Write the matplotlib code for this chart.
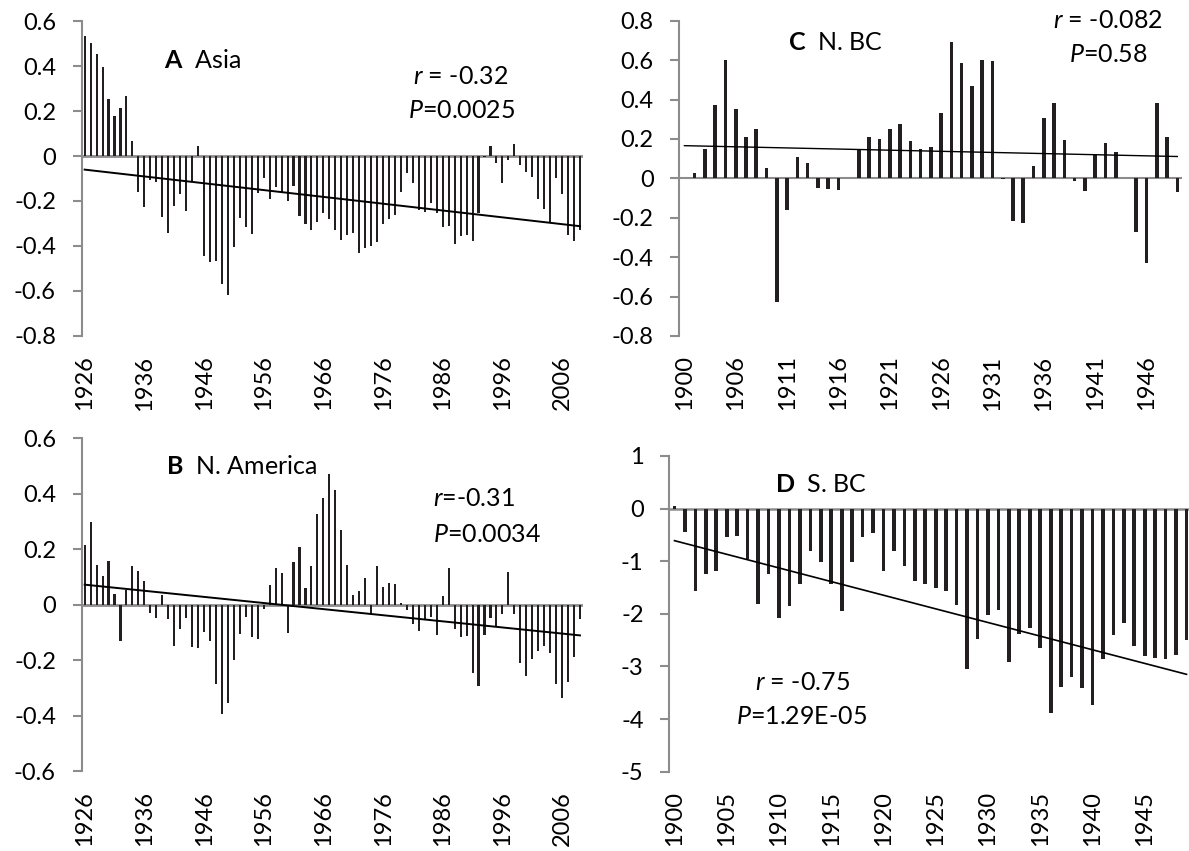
import numpy as np
import matplotlib
matplotlib.use("Agg")
import matplotlib.pyplot as plt

plt.rcParams['font.family'] = ['Lato', 'DejaVu Sans']
plt.rcParams['mathtext.fontset'] = 'custom'
plt.rcParams['mathtext.rm'] = 'Lato'
plt.rcParams['mathtext.it'] = 'Lato:italic'
plt.rcParams['mathtext.bf'] = 'Lato:bold'
plt.rcParams['axes.unicode_minus'] = False

# ---- data ----
years_ab = list(range(1926, 2010))
asia = [0.535, 0.504, 0.453, 0.394, 0.255, 0.176, 0.212, 0.265, 0.065,
        -0.159, -0.228, -0.107, -0.114, -0.27, -0.344, -0.221, -0.167, -0.243, -0.11,
        0.044, -0.444, -0.47, -0.467, -0.57, -0.618, -0.404, -0.276, -0.314, -0.347,
        -0.166, -0.10, -0.193, -0.136, -0.166, -0.2, -0.132, -0.267, -0.302, -0.329,
        -0.295, -0.255, -0.28, -0.329, -0.373, -0.351, -0.344, -0.433, -0.41, -0.399,
        -0.381, -0.302, -0.281, -0.262, -0.159, -0.074, -0.121, -0.24, -0.247, -0.21,
        -0.255, -0.317, -0.31, -0.393, -0.356, -0.351, -0.378, -0.252, -0.006, 0.044,
        -0.03, -0.119, -0.018, 0.053, -0.04, -0.07, -0.092, -0.19, -0.236, -0.296,
        -0.10, -0.17, -0.35, -0.38, -0.33]
namerica = [0.214, 0.297, 0.145, 0.103, 0.156, 0.037, -0.129, 0.052, 0.138, 0.12,
            0.087, -0.03, -0.048, 0.034, -0.053, -0.149, -0.088, -0.048, -0.153, -0.156,
            -0.099, -0.13, -0.285, -0.393, -0.355, -0.2, -0.105, -0.044, -0.117, -0.125,
            -0.014, 0.071, 0.131, 0.115, -0.101, 0.154, 0.207, 0.061, 0.141, 0.328,
            0.386, 0.47, 0.412, 0.27, 0.144, 0.034, 0.049, 0.097, -0.038, 0.138,
            0.065, 0.08, 0.076, 0.007, -0.018, -0.071, -0.096, -0.05, -0.044, -0.108,
            0.03, 0.132, -0.087, -0.117, -0.113, -0.246, -0.293, -0.108, -0.047, -0.075,
            -0.032, 0.117, -0.035, -0.21, -0.257, -0.197, -0.165, -0.147, -0.175, -0.285,
            -0.337, -0.28, -0.19, -0.05]

years_c = [1900] + list(range(1902, 1950))
nbc = [0.0, 0.025, 0.15, 0.37, 0.60, 0.35, 0.21, 0.25, 0.05, -0.63,
       -0.16, 0.11, 0.08, -0.05, -0.055, -0.06, 0.0, 0.15, 0.21, 0.20,
       0.25, 0.276, 0.19, 0.15, 0.16, 0.33, 0.69, 0.585, 0.47, 0.60,
       0.594, -0.003, -0.217, -0.229, 0.064, 0.308, 0.382, 0.195, -0.013, -0.064,
       0.12, 0.177, 0.135, 0.0, -0.274, -0.429, 0.384, 0.209, -0.067]

years_d = list(range(1900, 1950))
sbc = [0.057, -0.45, -1.56, -1.25, -1.19, -0.54, -0.53, -0.96, -1.81, -1.24,
       -2.08, -1.86, -1.43, -0.81, -1.02, -1.43, -1.94, -1.01, -0.545, -0.46,
       -1.18, -0.81, -1.10, -1.37, -1.43, -1.50, -1.57, -1.84, -3.05, -2.47,
       -2.02, -1.92, -2.92, -2.38, -2.26, -2.65, -3.88, -3.40, -3.20, -3.41,
       -3.74, -2.85, -2.41, -2.17, -2.62, -2.81, -2.83, -2.86, -2.79, -2.49]

GRAY = '#8c8c8c'
BAR = '#231f20'
W, H = 1189, 851


def px(x, y):
    return x / W, 1 - y / H


def fmt(v):
    v = round(v, 1)
    if abs(v) < 1e-9:
        return '0'
    return f'{v:g}'


def panel(rect, years, vals, ylim, ystep, label_every, zero_lw=2.0, trend_lw=1.4):
    ax = fig.add_axes(rect)
    x = np.arange(len(vals))
    ax.bar(x, vals, width=0.35, color=BAR, zorder=2)
    # least-squares trend line, as in the original spreadsheet chart
    slope, icpt = np.polyfit(x, vals, 1)
    ax.plot([x[0], x[-1]], [icpt + slope * x[0], icpt + slope * x[-1]],
            color='black', lw=trend_lw, zorder=3)
    ax.axhline(0, color=GRAY, lw=zero_lw, zorder=1)
    for s in ['top', 'right', 'bottom']:
        ax.spines[s].set_visible(False)
    ax.spines['left'].set_color(GRAY)
    ax.spines['left'].set_linewidth(1.5)
    ax.set_xlim(-0.5, len(vals) - 0.5)
    ax.set_ylim(*ylim)
    yt = np.arange(ylim[0], ylim[1] + ystep / 2, ystep)
    ax.set_yticks(yt)
    ax.set_yticklabels([fmt(v) for v in yt])
    pos = list(range(0, len(vals), label_every))
    ax.set_xticks(pos)
    ax.set_xticklabels([str(years[p]) for p in pos], rotation=90)
    ax.tick_params(axis='y', direction='out', length=6.5, width=1.5, color=GRAY,
                   pad=12, labelsize=17)
    ax.tick_params(axis='x', length=0, pad=14, labelsize=17)
    return ax


fig = plt.figure(figsize=(W / 100, H / 100), dpi=100)

panel([0.0687, 0.6052, 0.4216, 0.3701], years_ab, asia, (-0.8, 0.6), 0.2, 10)
panel([0.0687, 0.0937, 0.4216, 0.3913], years_ab, namerica, (-0.6, 0.6), 0.2, 10)
panel([0.5713, 0.6052, 0.4232, 0.3705], years_c, nbc, (-0.8, 0.8), 0.2, 5,
      zero_lw=1.5, trend_lw=1.0)
panel([0.5629, 0.0932, 0.4394, 0.371], years_d, sbc, (-5, 1), 1, 5,
      zero_lw=1.8, trend_lw=1.2)

FS = 18
fig.text(*px(164, 60), r'$\bf{A}$  Asia', fontsize=FS, va='center', ha='left')
fig.text(*px(461, 76), r'$\it{r}$ = -0.32', fontsize=FS, va='center', ha='center')
fig.text(*px(462, 110), r'$\it{P}$=0.0025', fontsize=FS, va='center', ha='center')

fig.text(*px(166, 466), r'$\bf{B}$  N. America', fontsize=FS, va='center', ha='left')
fig.text(*px(433, 499), r'$\it{r}$=-0.31', fontsize=FS, va='center', ha='left')
fig.text(*px(433, 535), r'$\it{P}$=0.0034', fontsize=FS, va='center', ha='left')

fig.text(*px(788, 43), r'$\bf{C}$  N. BC', fontsize=FS, va='center', ha='left')
fig.text(*px(1108, 20), r'$\it{r}$ = -0.082', fontsize=FS, va='center', ha='center')
fig.text(*px(1108, 55), r'$\it{P}$=0.58', fontsize=FS, va='center', ha='center')

fig.text(*px(775, 484), r'$\bf{D}$  S. BC', fontsize=FS, va='center', ha='left')
fig.text(*px(802, 682), r'$\it{r}$ = -0.75', fontsize=FS, va='center', ha='center')
fig.text(*px(802, 716), r'$\it{P}$=1.29E-05', fontsize=FS, va='center', ha='center')

fig.savefig('out.png', dpi=100)
